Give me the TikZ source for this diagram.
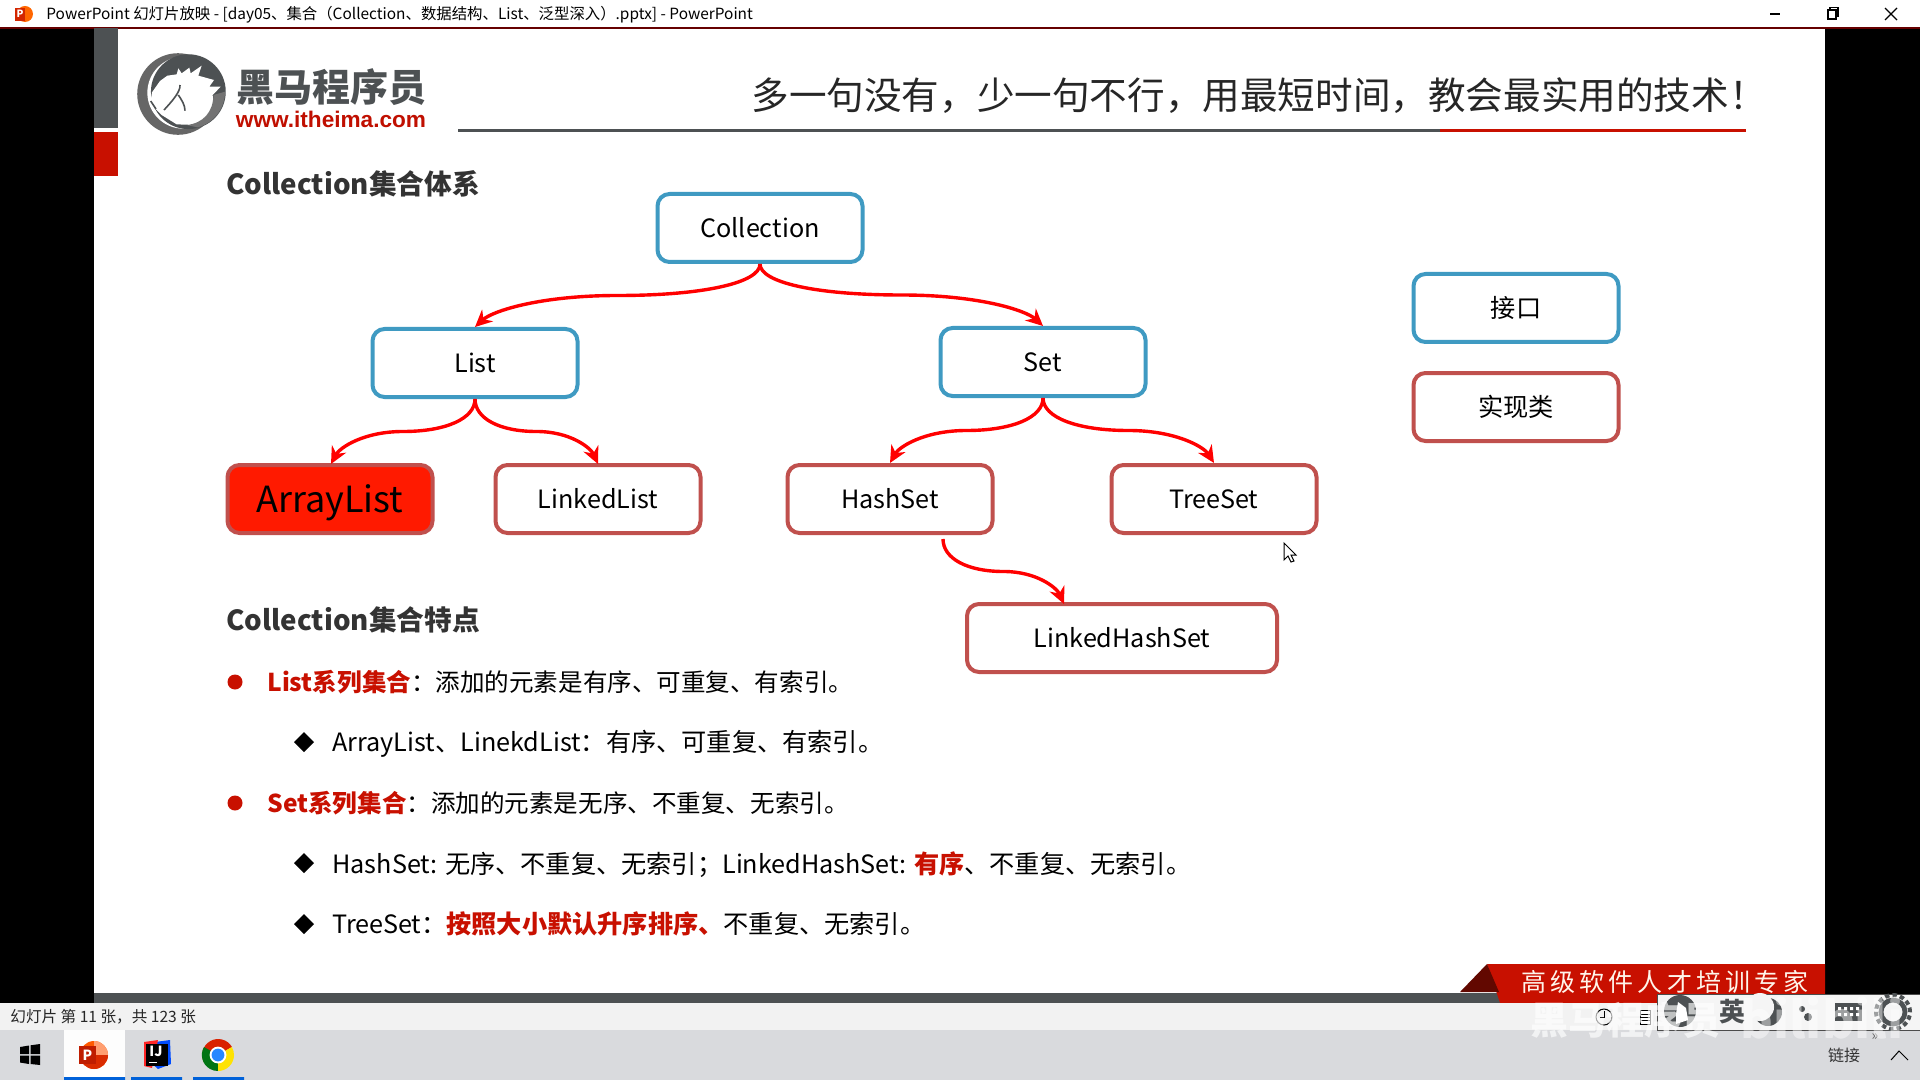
\documentclass[tikz,border=0pt]{standalone}
\usepackage{fontspec}
\setmainfont{Noto Sans CJK SC}
\newfontfamily\urlfont{Liberation Sans}
\usetikzlibrary{calc,arrows.meta}
\definecolor{ifblue}{HTML}{3F9AC2}
\definecolor{implred}{HTML}{C0504D}
\definecolor{slidered}{HTML}{C81000}
\definecolor{barred}{HTML}{C00F00}
\definecolor{slidegray}{HTML}{4D5153}
\definecolor{taskbg}{HTML}{D9DADD}
\definecolor{statusbg}{HTML}{F2F2F2}
\definecolor{arrayfill}{HTML}{FF1A00}
\newcommand{\fsz}[1]{\fontsize{#1}{#1}\selectfont}
\newcommand{\clink}[2]{\draw[conn] let \p1=(#1), \p2=(#2), \n1={0.5*(\y1+\y2)}, \n2={0.5*(\x1+\x2)} in
  (\p1) .. controls (\x1,{\y1+0.6*(\n1-\y1)}) and ({\n2+0.6*(\x1-\n2)},\n1) .. (\n2,\n1)
  .. controls ({\n2+0.55*(\x2-\n2)},\n1) and ({\x2+0.12*(\n2-\x2)},{\n1+0.5*(\y2-\n1)}) .. (\p2);}
\tikzset{
  boxbase/.style={rectangle,rounded corners=6pt,line width=2pt,minimum width=102.5pt,minimum height=34pt,inner sep=0pt,fill=white,text=black,font=\fsz{12.6pt}},
  iface/.style={boxbase,draw=ifblue},
  impl/.style={boxbase,draw=implred},
  conn/.style={draw=red,line width=1.7pt,-{Stealth[length=8.5pt,width=8pt]}},
  heading/.style={anchor=west,inner sep=0pt,font=\bfseries\fsz{13.85pt},text=black!80},
  bodyline/.style={anchor=west,inner sep=0pt,font=\fsz{12.28pt},text=black},
  subline/.style={anchor=west,inner sep=0pt,font=\fsz{12.6pt},text=black},
  reddot/.style={circle,fill=slidered,inner sep=0pt,minimum size=7.5pt},
  ui/.style={inner sep=0pt,text=black}
}
\begin{document}
\begin{tikzpicture}[x=0.5pt,y=-0.5pt]
\useasboundingbox (0,0) rectangle (1920,1080);
% screen
\fill[black] (0,0) rectangle (1920,1080);
\fill[white] (94,28) rectangle (1825,993);
\fill[white] (0,0) rectangle (1920,28);
\draw[line width=.8pt,draw=black!60!red] (0,28) -- (1920,28);
% title bar
\fill[orange!80!red] (25,14) circle[radius=4pt];
\fill[slidered!80!orange] (15,8) rectangle (25,21);
\node[ui,text=white,font=\bfseries\fsz{5pt}] (ticon) at (20,14) {P};
\node[ui,anchor=west,font=\fsz{7.7pt}] (wintitle) at (46,15) {PowerPoint 幻灯片放映 - [day05、集合（Collection、数据结构、List、泛型深入）.pptx] - PowerPoint};
\draw[line width=.6pt] (1770,14) -- (1780,14);
\draw[line width=.6pt] (1828,10) rectangle (1836,19);
\draw[line width=.6pt] (1830,10) -- (1830,7.5) -- (1838,7.5) -- (1838,16) -- (1836,16);
\draw[line width=.6pt] (1885,8) -- (1897,20) (1897,8) -- (1885,20);
% side bars
\fill[slidegray] (94,28) rectangle (118,128);
\fill[slidered] (94,132) rectangle (118,176);
% logo
\begin{scope}[shift={(130,45)},x=0.1667pt,y=-0.1667pt]
\fill[black!60] (144,147) circle[radius=20.4pt];
\fill[white] (160,143) circle[radius=18pt];
\fill[slidegray] (175,140) circle[radius=18.7pt];
\fill[white] (62,168) -- (66,142) -- (90,108) -- (112,92) -- (140,88) -- (145,70) -- (155,85) -- (178,68) -- (182,85) -- (215,62) -- (205,92) -- (252,105) -- (238,125) -- (272,125) -- (248,150) -- (250,190) -- (235,222) -- (195,240) -- (140,238) -- (95,210) -- (75,190) -- cycle;
\fill[black!55] (285,140) arc[start angle=0,end angle=-75,radius=18.5pt] -- (170,240) .. controls (220,235) and (250,200) .. (250,150) -- cycle;
\draw[slidegray,line width=.8pt] (150,120) .. controls (152,140) and (125,170) .. (102,195) (145,150) .. controls (155,165) and (165,180) .. (165,197) (62,168) -- (78,192);
\end{scope}
\node[inner sep=0pt,font=\bfseries\fsz{19pt},text=slidegray] (logocn) at (331,87) {黑马程序员};
\node[inner sep=0pt,font=\urlfont\bfseries\fsz{11.3pt},text=barred] (logourl) at (331,119) {www.itheima.com};
% slogan
\node[inner sep=0pt,font=\fsz{18.8pt},text=black!85] (slogan) at (1259,96) {多一句没有，少一句不行，用最短时间，教会最实用的技术！};
\draw[slidegray,line width=1.5pt] (458,131) -- (1440,131);
\draw[slidered,line width=1.5pt] (1440,131) -- (1746,131);
% headings
\node[heading] (h1) at (226,184) {Collection集合体系};
\node[heading] (h2) at (226,620) {Collection集合特点};
% tree nodes
\node[iface] (coll) at (760,228) {Collection};
\node[iface] (list) at (475,363) {List};
\node[iface] (set) at (1043,362) {Set};
\node[impl,fill=arrayfill,font=\fsz{18pt}] (alist) at (330,499) {\raisebox{0pt}[13pt][0pt]{ArrayList}};
\node[impl] (llist) at (598,499) {LinkedList};
\node[impl] (hset) at (890,499) {HashSet};
\node[impl] (tset) at (1214,499) {TreeSet};
\node[impl,minimum width=155pt] (lhset) at (1122,638) {LinkedHashSet};
\node[iface] (legi) at (1516,308) {接口};
\node[impl] (legc) at (1516,407) {实现类};
\coordinate (hsetout) at (943,539);
\coordinate (lhin) at (1064,604);
\coordinate (alin) at (331,464);
\coordinate (llin) at (598,464);
\clink{coll.south}{list.north}
\clink{coll.south}{set.north}
\clink{list.south}{alin}
\clink{list.south}{llin}
\clink{set.south}{hset.north}
\clink{set.south}{tset.north}
\clink{hsetout}{lhin}
% cursor
\draw[fill=white,line width=.5pt] (1284,543) -- (1284,560) -- (1288,556) -- (1291,562) -- (1294,561) -- (1291,555) -- (1296,555) -- cycle;
% body text
\node[reddot] (b1) at (235,682) {};
\node[bodyline] (t1) at (267,682) {\textcolor{slidered}{\textbf{List系列集合}}：添加的元素是有序、可重复、有索引。};
\node[subline] (t2) at (332,744) {ArrayList、LinekdList：有序、可重复、有索引。};
\node[reddot] (b2) at (235,803) {};
\node[bodyline] (t3) at (267,803) {\textcolor{slidered}{\textbf{Set系列集合}}：添加的元素是无序、不重复、无索引。};
\node[subline] (t4) at (332,865) {HashSet: 无序、不重复、无索引；LinkedHashSet: \textcolor{slidered}{\textbf{有序}}、不重复、无索引。};
\node[subline] (t5) at (332,924) {TreeSet：\textcolor{slidered}{\textbf{按照大小默认升序排序、}}不重复、无索引。};
\foreach \yy in {742,863,924}{\fill[black] (294,\yy) -- (304,\yy-10) -- (314,\yy) -- (304,\yy+10) -- cycle;}
% slide foot
\fill[slidegray] (94,993) rectangle (1500,1003);
\fill[slidered] (1487,964) -- (1825,964) -- (1825,1003) -- (1500,1003) -- cycle;
\fill[black!30!slidered!70!black] (1487,964) -- (1460,992) -- (1499,992) -- cycle;
\node[inner sep=0pt,text=orange!8,font=\fsz{12.5pt}] (foot) at (1665,982) {高\,级\,软\,件\,人\,才\,培\,训\,专\,家};
% status bar + taskbar
\fill[statusbg] (0,1003) rectangle (1920,1030);
\fill[taskbg] (0,1030) rectangle (1920,1080);
\node[ui,anchor=west,font=\fsz{7.8pt},text=black!85] (status) at (10,1017) {幻灯片 第 11 张，共 123 张};
\fill[white!95!taskbg] (64,1030) rectangle (125,1077);
\fill[blue!55!cyan!85!black] (64,1077) rectangle (125,1080) (131,1077) rectangle (182,1080) (193,1077) rectangle (244,1080);
% start
\fill[black] (20,1047) -- (29,1045.5) -- (29,1054) -- (20,1054) -- cycle (30.5,1045.3) -- (40,1044) -- (40,1054) -- (30.5,1054) -- cycle (20,1055.5) -- (29,1055.5) -- (29,1064) -- (20,1062.5) -- cycle (30.5,1055.5) -- (40,1055.5) -- (40,1065) -- (30.5,1064) -- cycle;
% ppt icon
\fill[orange!70!red] (94,1055) circle[radius=7pt];
\fill[orange!45!white!80!red] (94,1055) -- (94,1041) arc[start angle=90,end angle=0,radius=7pt] -- cycle;
\fill[red!60!orange!85!black] (94,1055) -- (108,1055) arc[start angle=0,end angle=-180,radius=7pt] -- cycle;
\fill[red!70!orange!75!black] (79,1046) rectangle (96,1064);
\node[ui,text=white,font=\bfseries\fsz{7pt}] (picon) at (87.5,1055) {P};
% idea icon
\fill[blue!70!cyan] (155,1042) -- (170,1040) -- (171,1064) -- (158,1069) -- (148,1060) -- cycle;
\fill[red!80!pink] (144,1042) -- (158,1040) -- (152,1068) -- (144,1066) -- cycle;
\fill[black] (146,1044) rectangle (168,1066);
\node[ui,text=white,font=\bfseries\fsz{7pt}] (iicon) at (156,1051) {IJ};
\draw[white,line width=.5pt] (149,1062) -- (157,1062);
% chrome icon
\fill[red!70!orange!85!black] (218,1055) -- (232,1047) arc[start angle=30,end angle=210,radius=8pt] -- cycle;
\fill[yellow!85!orange] (218,1055) -- (218,1071) arc[start angle=-90,end angle=30,radius=8pt] -- cycle;
\fill[green!45!black!85!teal] (218,1055) -- (204,1047) arc[start angle=150,end angle=270,radius=8pt] -- cycle;
\fill[white] (218,1055) circle[radius=4.2pt];
\fill[blue!55!cyan!85!white] (218,1055) circle[radius=3.2pt];
% tray text
\node[ui,font=\fsz{8pt},text=black!80] (tray) at (1844,1055) {链接};
\draw[line width=.5pt] (1891,1060) -- (1899,1051) -- (1908,1060);
\node[ui,font=\fsz{7pt},text=black!60] (more) at (1875,1037) {»};
% status icons
\draw[line width=.5pt] (1604,1017) circle[radius=4pt];
\draw[line width=.4pt] (1604,1011) -- (1604,1017) -- (1600,1017);
\draw[fill=white,line width=.4pt] (1640,1010) rectangle (1650,1024);
\draw[line width=.4pt] (1640,1014) -- (1650,1014) (1640,1017) -- (1650,1017) (1640,1020) -- (1650,1020);
% IME bar
\fill[white!96!black] (1657,994) rectangle (1920,1030);
\draw[black!70,line width=.4pt] (1657,1030) -- (1657,994) -- (1920,994);
\draw[black!70,line width=.4pt] (1657,1030) -- (1920,1030);
\fill[slidegray] (1680,1011) circle[radius=8pt];
\fill[white] (1676,1014) -- (1678,1002) -- (1686,1008) -- (1688,1020) -- (1676,1024) -- cycle;
\node[ui,font=\bfseries\fsz{13pt},text=slidegray] (imeying) at (1732,1012) {英};
\fill[slidegray] (1768,1012) circle[radius=7pt];
\fill[white!96!black] (1760,1007) circle[radius=7pt];
\fill[slidegray] (1802,1009) circle[radius=1.5pt] (1808,1017) circle[radius=2pt];
\fill[slidegray] (1835,1003) rectangle (1862,1021);
\foreach \kx in {1838,1844,1850,1856}{\fill[white] (\kx,1007) rectangle (\kx+3,1010) (\kx,1013) rectangle (\kx+3,1016);}
\draw[slidegray,line width=2pt,dash pattern=on 2.2pt off 1.6pt] (1893,1012) circle[radius=8.5pt];
\draw[slidegray,line width=2.4pt] (1893,1012) circle[radius=6pt];
% watermark
\node[inner sep=0pt,text=white,opacity=.65,font=\bfseries\fsz{19pt}] (wm) at (1625,1020) {黑马程序员};
\node[inner sep=0pt,text=white,opacity=.45,font=\bfseries\fsz{25pt}] (wm2) at (1822,1018) {bilibili};
\end{tikzpicture}
\end{document}
